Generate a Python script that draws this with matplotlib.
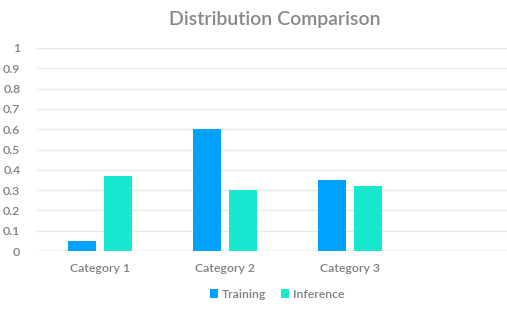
import matplotlib
matplotlib.use("Agg")
import matplotlib.pyplot as plt
import numpy as np

categories = ["Category 1", "Category 2", "Category 3"]
training = [0.05, 0.6, 0.35]
inference = [0.37, 0.3, 0.32]
yticks = [0, 0.1, 0.2, 0.3, 0.4, 0.5, 0.6, 0.7, 0.8, 0.9, 1]
ytick_labels = ["0", "0.1", "0.2", "0.3", "0.4", "0.5", "0.6", "0.7", "0.8", "0.9", "1"]

plt.rcParams["font.family"] = ["Lato", "DejaVu Sans"]
grey = "#7f7f7f"

fig = plt.figure(figsize=(5.07, 3.14), dpi=100)
ax = fig.add_axes([37 / 507, 1 - 251 / 314, 1 - 37 / 507, (251 - 48) / 314])

x = np.arange(len(categories))
w = 0.223
off = 0.143
ax.bar(x - off, training, w, color="#00A2FF", label="Training", zorder=3)
ax.bar(x + off, inference, w, color="#17E8CF", label="Inference", zorder=3)

ax.set_xlim(-0.5, 3.25)
ax.set_ylim(0, 1)
ax.set_yticks(yticks)
ax.set_yticklabels(ytick_labels)
ax.set_xticks(x)
ax.set_xticklabels(categories)
ax.tick_params(axis="both", length=0, colors=grey, labelsize=8.8)
ax.tick_params(axis="y", pad=12)
ax.tick_params(axis="x", pad=9)
for lbl in ax.get_xticklabels() + ax.get_yticklabels():
    lbl.set_fontweight("semibold")
for s in ax.spines.values():
    s.set_visible(False)
ax.grid(axis="y", color="#e8e8e8", linewidth=1, zorder=0)
ax.axhline(0, color="#d9d9d9", linewidth=1, zorder=2)

fig.text(275 / 507, 1 - 20 / 314, "Distribution Comparison", ha="center", va="center",
         fontsize=14, color="#888888", fontweight="semibold")
fig.legend(loc="center", bbox_to_anchor=(277 / 507, 1 - 294 / 314), ncol=2, frameon=False,
           fontsize=8.8, labelcolor=grey, handlelength=0.7, handleheight=0.7,
           handletextpad=0.3, columnspacing=1.2, prop={"weight": "semibold", "size": 8.8})

fig.savefig("out.png", dpi=100)
